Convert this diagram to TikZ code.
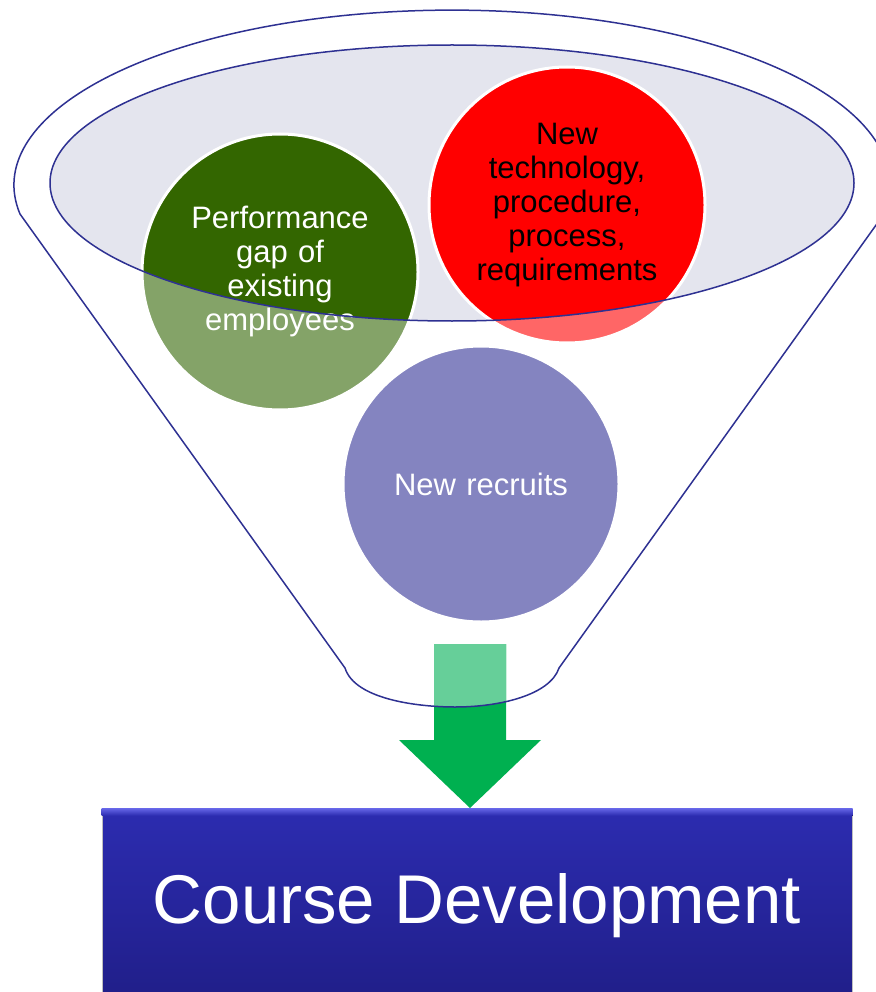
\documentclass[tikz,border=0pt]{standalone}
\usepackage{fontspec}
\setmainfont{Liberation Sans}

\definecolor{funnelline}{RGB}{46,49,146}
\definecolor{rimgray}{RGB}{228,229,238}
\definecolor{gapgreen}{RGB}{51,102,0}
\definecolor{gapgreenlt}{RGB}{132,163,104}
\definecolor{techred}{RGB}{255,0,0}
\definecolor{techredlt}{RGB}{255,102,102}
\definecolor{recruitblue}{RGB}{132,132,192}
\definecolor{arrowgreen}{RGB}{0,176,80}
\definecolor{arrowgreenlt}{RGB}{102,207,153}
\definecolor{courselt}{RGB}{100,100,230}
\definecolor{coursetop}{RGB}{44,44,176}
\definecolor{coursebot}{RGB}{32,30,136}

\newcommand{\funnelpath}{(20,214) arc[start angle=189.5, end angle=-9.5, x radius=438pt, y radius=175pt]
    -- (559,668) .. controls (550,695) and (500,707) .. (455,707)
    .. controls (420,707) and (355,700) .. (345,668) -- cycle}
\newcommand{\spoutarrow}{([xshift=-36pt]spout) -- ([xshift=36pt]spout) -- ([xshift=36pt,yshift=-96pt]spout)
    -- ([xshift=71pt,yshift=68pt]tip) -- (tip) -- ([xshift=-71pt,yshift=68pt]tip)
    -- ([xshift=-36pt,yshift=-96pt]spout) -- cycle}

\begin{document}
\begin{tikzpicture}[x=1pt, y=-1pt,
    bubble/.style={circle, draw=white, line width=3pt, minimum size=276pt, inner sep=0pt,
        text width=210pt, align=center, font=\fontsize{31}{34}\selectfont},
    rim/.style={x radius=402pt, y radius=138pt}]

    \useasboundingbox (0,0) rectangle (875,992);

    \coordinate (rim) at (452,183);
    \coordinate (spout) at (470,644);
    \coordinate (tip) at (470,808);

    \fill[white] \funnelpath;
    \fill[rimgray] (rim) ellipse [rim];

    \node (gap) [bubble, fill=gapgreenlt, text=white,
        path picture={\fill[gapgreen] (rim) ellipse [rim];}] at (280,272)
        {Performance\\gap of\\existing\\employees};
    \node (tech) [bubble, fill=techredlt, text=black,
        path picture={\fill[techred] (rim) ellipse [rim];}] at (567,205)
        {New\\technology,\\procedure,\\process,\\requirements};
    \node (recruit) [bubble, fill=recruitblue, text=white] at (481,484) {New recruits};

    % arrow out of the funnel
    \fill[arrowgreen] \spoutarrow;
    \begin{scope}
        \clip \funnelpath;
        \fill[arrowgreenlt] \spoutarrow;
    \end{scope}

    \draw[funnelline, line width=1.5pt] \funnelpath;
    \draw[funnelline, line width=1.5pt] (rim) ellipse [rim];

    \node (course) [draw=gray!50, line width=1pt, top color=coursetop, bottom color=coursebot,
        minimum width=750pt, minimum height=194pt, inner sep=0pt, text=white,
        font=\fontsize{69}{80}\selectfont] at (477,906) {Course Development};
    \fill[top color=courselt, bottom color=coursetop] (course.north west) rectangle ([yshift=-7pt]course.north east);

\end{tikzpicture}
\end{document}
